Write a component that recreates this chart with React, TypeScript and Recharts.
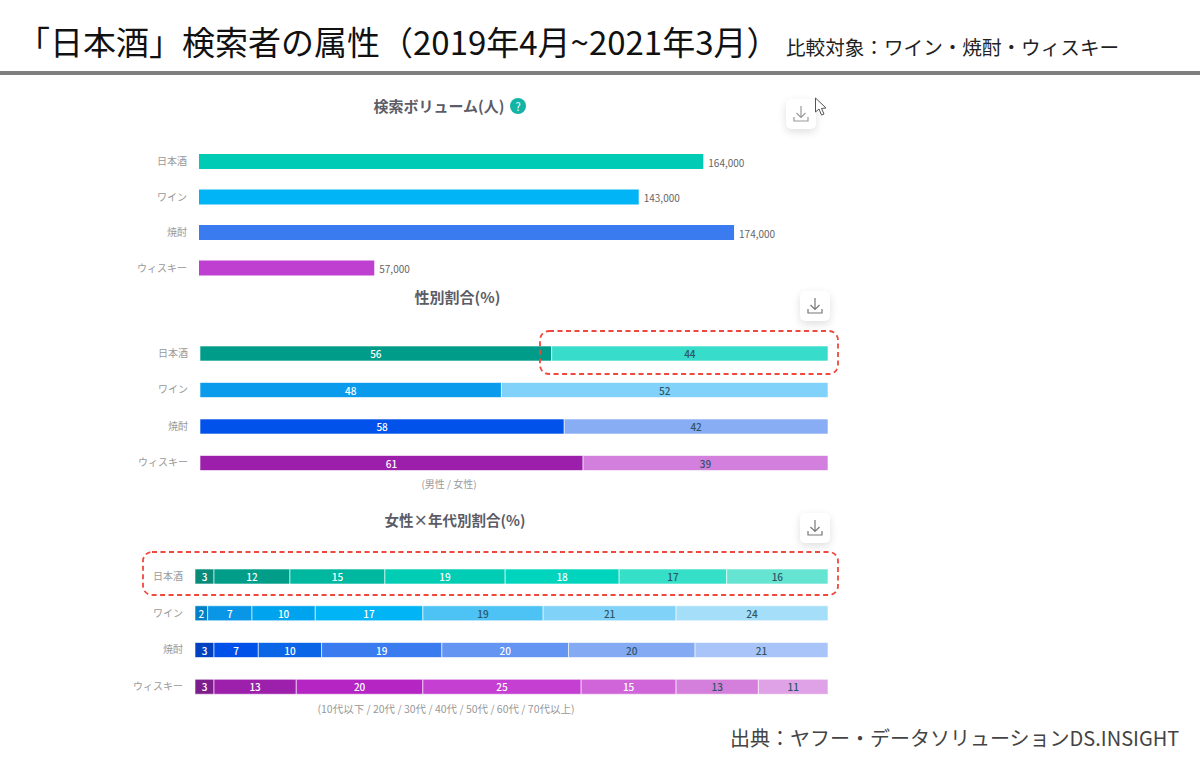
import { Bar, BarChart, Cell, LabelList, XAxis, YAxis } from "recharts";

const categories = ["日本酒", "ワイン", "焼酎", "ウィスキー"];
const volumes = [164000, 143000, 174000, 57000];
const maleShares = [56, 48, 58, 61];
const femaleShares = [44, 52, 42, 39];
const ageGroups = ["u10", "a20", "a30", "a40", "a50", "a60", "a70"];
const sakeAges = [3, 12, 15, 19, 18, 17, 16];
const wineAges = [2, 7, 10, 17, 19, 21, 24];
const shochuAges = [3, 7, 10, 19, 20, 20, 21];
const whiskyAges = [3, 13, 20, 25, 15, 13, 11];

const volumeColors = ["#00cbb4", "#00b4f5", "#3a7bf0", "#bf3fd0"];
const genderColors = [
  ["#009c8a", "#38dccb"],
  ["#0a9bed", "#80d2fa"],
  ["#0052ea", "#88adf5"],
  ["#9c1fac", "#d27fdd"],
];
const ageColors = [
  ["#0a8a78", "#009d88", "#00b8a0", "#00cdb3", "#00d4bd", "#35dfc8", "#66e4d2"],
  ["#0080c8", "#0a96e6", "#00a3ed", "#00b4f5", "#4dc3f5", "#80d2f8", "#a5def8"],
  ["#0041c0", "#0050ea", "#0a66e6", "#3a7bf0", "#6495f2", "#85aaf4", "#a8c4f8"],
  ["#7d1e8c", "#9c20ac", "#b425c4", "#c43fd2", "#d065da", "#d47fdc", "#e0a2e6"],
];
// first segment index per row whose label turns dark
const genderDarkFrom = [1, 1, 1, 1];
const ageDarkFrom = [5, 4, 5, 5];

const FONT = "'Noto Sans CJK JP', 'Noto Sans', sans-serif";

const volumeData = categories.map((name, i) => ({ name, value: volumes[i] }));
const genderData = categories.map((name, i) => ({
  name,
  male: maleShares[i],
  female: femaleShares[i],
}));
const ageRows = [sakeAges, wineAges, shochuAges, whiskyAges];
const ageData = categories.map((name, i) => {
  const row: Record<string, string | number> = { name };
  ageGroups.forEach((g, j) => {
    row[g] = ageRows[i][j];
  });
  return row;
});

const Label = ({ x, y, size, color, weight, anchor, children }: any) => (
  <div
    style={{
      position: "absolute",
      left: anchor === "center" ? x - 400 : x,
      width: anchor === "center" ? 800 : undefined,
      textAlign: anchor === "center" ? "center" : "left",
      top: y - size,
      height: size * 2,
      lineHeight: `${size * 2}px`,
      fontSize: size,
      color,
      fontWeight: weight ?? 400,
      whiteSpace: "nowrap",
    }}
  >
    {children}
  </div>
);

const DownloadButton = ({ x, y, color }: { x: number; y: number; color: string }) => (
  <div
    style={{
      position: "absolute",
      left: x,
      top: y,
      width: 30,
      height: 30,
      borderRadius: 5,
      background: "#fff",
      boxShadow: "0 3px 9px rgba(0,0,0,0.13)",
    }}
  >
    <svg width={30} height={30}>
      <path
        d="M15 7 V18 M10.5 14 L15 18.5 L19.5 14 M8 18 V22 H22 V18"
        fill="none"
        stroke={color}
        strokeWidth={1.2}
      />
    </svg>
  </div>
);

const Callout = ({ x, y, w, h }: { x: number; y: number; w: number; h: number }) => (
  <svg style={{ position: "absolute", left: x - 2, top: y - 2 }} width={w + 4} height={h + 4}>
    <rect
      x={2}
      y={2}
      width={w}
      height={h}
      rx={9}
      fill="none"
      stroke="#f0483c"
      strokeWidth={1.8}
      strokeDasharray="5 3.5"
    />
  </svg>
);

const segmentLabel = (fills: string[]) => (props: any) => {
  const { x, y, width, height, value, index } = props;
  return (
    <text
      x={x + width / 2}
      y={y + height / 2 + 4.5}
      textAnchor="middle"
      fontSize={10}
      fontWeight={500}
      fontFamily={FONT}
      fill={fills[index]}
    >
      {value}
    </text>
  );
};

const volumeLabel = (props: any) => {
  const { x, y, width, height, value } = props;
  return (
    <text
      x={x + width + 5}
      y={y + height / 2 + 5}
      fontSize={10}
      fontFamily={FONT}
      fill="#666"
    >
      {Number(value).toLocaleString("en-US")}
    </text>
  );
};

const labelFills = (segment: number, darkFrom: number[]) =>
  darkFrom.map((from) => (segment >= from ? "#2f5566" : "#ffffff"));

const tick = { fontSize: 10, fill: "#999", fontFamily: FONT };

const StackedRows = ({ data, keys, colors, darkFrom, left, width, top, height }: any) => (
  <div style={{ position: "absolute", left: 0, top }}>
    <BarChart
      width={left + width + 10}
      height={height}
      data={data}
      layout="vertical"
      margin={{ top: 0, right: 10, bottom: 0, left: 0 }}
      barSize={15}
    >
      <XAxis type="number" hide domain={[0, 100]} />
      <YAxis
        type="category"
        dataKey="name"
        width={left}
        axisLine={false}
        tickLine={false}
        tickMargin={6}
        tick={tick}
        interval={0}
      />
      {keys.map((key: string, s: number) => (
        <Bar
          key={key}
          dataKey={key}
          stackId="share"
          stroke="#ffffff"
          strokeWidth={0.6}
          isAnimationActive={false}
        >
          {data.map((_: any, i: number) => (
            <Cell key={i} fill={colors[i][s]} />
          ))}
          <LabelList dataKey={key} content={segmentLabel(labelFills(s, darkFrom))} />
        </Bar>
      ))}
    </BarChart>
  </div>
);

export default function App() {
  return (
    <div
      style={{
        position: "absolute",
        left: 0,
        top: 0,
        width: 1200,
        height: 758,
        background: "#fff",
        fontFamily: FONT,
        overflow: "hidden",
      }}
    >
      <Label x={17} y={41} size={33} color="#111">
        「日本酒」検索者の属性（2019年4月~2021年3月）
      </Label>
      <Label x={786} y={47} size={19.6} color="#222">
        比較対象：ワイン・焼酎・ウィスキー
      </Label>
      <div
        style={{ position: "absolute", left: 0, top: 71, width: 1200, height: 4, background: "#7f7f7f" }}
      />

      <Label x={439} y={105.5} size={15} color="#5c5c66" weight={700} anchor="center">
        検索ボリューム(人)
      </Label>
      <div
        style={{
          position: "absolute",
          left: 510,
          top: 98,
          width: 16,
          height: 16,
          borderRadius: 8,
          background: "#12b5a5",
          color: "#fff",
          fontSize: 11,
          lineHeight: "16px",
          textAlign: "center",
        }}
      >
        ?
      </div>
      <DownloadButton x={786} y={99} color="#999" />
      <svg style={{ position: "absolute", left: 813, top: 96 }} width={16} height={22}>
        <path
          d="M2.5 2 V16 L6 13 L8.5 19 L11 18 L8.5 12.5 L13 12 Z"
          fill="#fff"
          stroke="#555"
          strokeWidth={1}
        />
      </svg>

      <div style={{ position: "absolute", left: 0, top: 144 }}>
        <BarChart
          width={850}
          height={142}
          data={volumeData}
          layout="vertical"
          margin={{ top: 0, right: 36, bottom: 0, left: 0 }}
          barSize={15}
        >
          <XAxis type="number" hide domain={[0, 200000]} />
          <YAxis
            type="category"
            dataKey="name"
            width={199}
            axisLine={false}
            tickLine={false}
            tickMargin={6}
            tick={tick}
            interval={0}
          />
          <Bar dataKey="value" isAnimationActive={false}>
            {volumeData.map((d, i) => (
              <Cell key={d.name} fill={volumeColors[i]} />
            ))}
            <LabelList dataKey="value" content={volumeLabel} />
          </Bar>
        </BarChart>
      </div>

      <Label x={457.5} y={296.5} size={15} color="#5c5c66" weight={700} anchor="center">
        性別割合(%)
      </Label>
      <DownloadButton x={800} y={291} color="#777" />
      <StackedRows
        data={genderData}
        keys={["male", "female"]}
        colors={genderColors}
        darkFrom={genderDarkFrom}
        left={200}
        width={628}
        top={335}
        height={146}
      />
      <Label x={449} y={484} size={10} color="#999" anchor="center">
        (男性 / 女性)
      </Label>

      <Label x={455} y={519} size={14.5} color="#5c5c66" weight={700} anchor="center">
        女性×年代別割合(%)
      </Label>
      <DownloadButton x={800} y={513} color="#777" />
      <StackedRows
        data={ageData}
        keys={ageGroups}
        colors={ageColors}
        darkFrom={ageDarkFrom}
        left={195}
        width={633}
        top={558}
        height={147}
      />
      <Label x={446} y={708} size={10.5} color="#999" anchor="center">
        (10代以下 / 20代 / 30代 / 40代 / 50代 / 60代 / 70代以上)
      </Label>

      <Callout x={540} y={331} w={298} h={43} />
      <Callout x={143} y={552} w={695} h={43} />

      <Label x={730} y={738} size={20} color="#444">
        出典：ヤフー・データソリューションDS.INSIGHT
      </Label>
    </div>
  );
}
